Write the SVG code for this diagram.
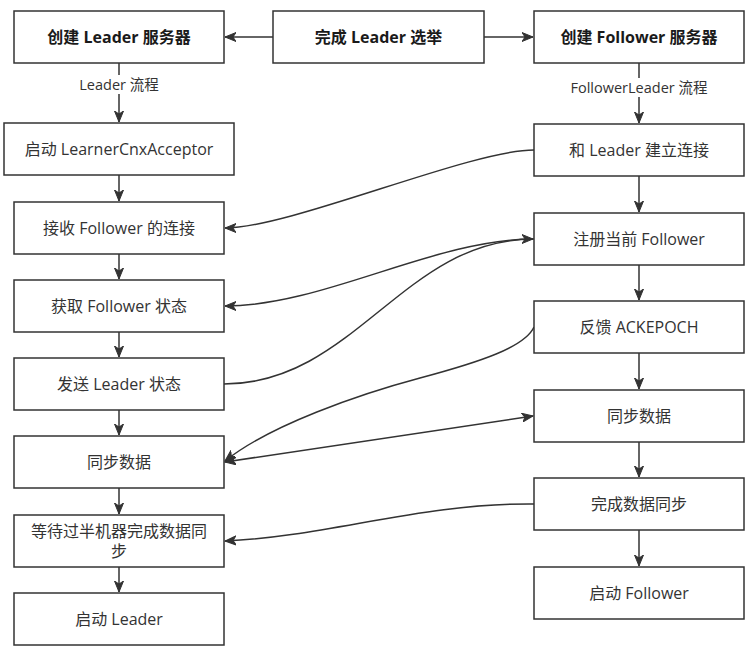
<svg xmlns="http://www.w3.org/2000/svg" width="749" height="653" viewBox="0 0 749 653">
<style>
  .box { fill: #ffffff; stroke: #333333; stroke-width: 1.5; }
  .t { font-family: "Open Sans", "Noto Sans CJK SC", sans-serif; font-size: 16px; fill: #333333; text-anchor: middle; }
  .b { font-weight: bold; fill: #1a1a1a; }
  .lbl { font-family: "Open Sans", "Noto Sans CJK SC", sans-serif; font-size: 14.5px; fill: #333333; text-anchor: middle; }
  .c { fill: none; stroke: #333333; stroke-width: 1.5; }
  .a { marker-end: url(#arr); }
</style>
<defs>
  <marker id="arr" markerUnits="userSpaceOnUse" markerWidth="12" markerHeight="10" viewBox="0 0 12 10" refX="11" refY="5" orient="auto-start-reverse">
    <path d="M0,0.5 L11,5 L0,9.5 L3,5 z" fill="#333333" stroke="#333333" stroke-width="1"/>
  </marker>
</defs>
<rect width="749" height="653" fill="#ffffff"/>

<g id="connectors">
  <line class="c a" x1="273" y1="37" x2="225" y2="37"/>
  <line class="c a" x1="484" y1="37" x2="533" y2="37"/>
  <line class="c a" x1="119" y1="63" x2="119" y2="122"/>
  <line class="c a" x1="119" y1="175" x2="119" y2="201"/>
  <line class="c a" x1="119" y1="254" x2="119" y2="279"/>
  <line class="c a" x1="119" y1="332" x2="119" y2="357"/>
  <line class="c a" x1="119" y1="410" x2="119" y2="435"/>
  <line class="c a" x1="119" y1="488" x2="119" y2="514"/>
  <line class="c a" x1="119" y1="567" x2="119" y2="592"/>
  <line class="c a" x1="639" y1="63" x2="639" y2="123"/>
  <line class="c a" x1="639" y1="176" x2="639" y2="212"/>
  <line class="c a" x1="639" y1="265" x2="639" y2="300"/>
  <line class="c a" x1="639" y1="353" x2="639" y2="389"/>
  <line class="c a" x1="639" y1="442" x2="639" y2="477"/>
  <line class="c a" x1="639" y1="530" x2="639" y2="566"/>
  <path class="c a" d="M534,150 C470,150 290,228 225,228"/>
  <path class="c a" d="M534,239 C434,239 324,306 225,306"/>
  <path class="c a" d="M224,384 C354,384 404,239 533,239"/>
  <path class="c a" d="M534,327 C525,347 480,362 420,378 C360,394 270,425 225,461"/>
  <line class="c a" x1="225" y1="462" x2="533" y2="416" style="marker-start: url(#arr)"/>
  <path class="c a" d="M534,504 C420,503 330,536 225,541"/>
  <rect x="74" y="75" width="90" height="19" fill="#ffffff"/>
  <text class="lbl" x="119" y="90">Leader 流程</text>
  <rect x="563" y="78" width="152" height="19" fill="#ffffff"/>
  <text class="lbl" x="639" y="92.5">FollowerLeader 流程</text>
</g>

<g id="n-create-leader"><rect class="box" x="14" y="11" width="210" height="52"/><text class="t b" x="119" y="42.5">创建 Leader 服务器</text></g>
<g id="n-election"><rect class="box" x="273" y="11" width="211" height="52"/><text class="t b" x="378.5" y="42.5">完成 Leader 选举</text></g>
<g id="n-create-follower"><rect class="box" x="534" y="11" width="210" height="52"/><text class="t b" x="639" y="42.5">创建 Follower 服务器</text></g>

<g id="n-acceptor"><rect class="box" x="4" y="123" width="230" height="52"/><text class="t" x="119" y="154.5">启动 LearnerCnxAcceptor</text></g>
<g id="n-accept"><rect class="box" x="14" y="202" width="210" height="52"/><text class="t" x="119" y="233.5">接收 Follower 的连接</text></g>
<g id="n-get-state"><rect class="box" x="14" y="280" width="210" height="52"/><text class="t" x="119" y="311.5">获取 Follower 状态</text></g>
<g id="n-send-state"><rect class="box" x="14" y="358" width="210" height="52"/><text class="t" x="119" y="389.5">发送 Leader 状态</text></g>
<g id="n-sync-l"><rect class="box" x="14" y="436" width="210" height="52"/><text class="t" x="119" y="467.5">同步数据</text></g>
<g id="n-wait"><rect class="box" x="14" y="515" width="210" height="52"/><text class="t" x="119" y="537">等待过半机器完成数据同</text><text class="t" x="119" y="557">步</text></g>
<g id="n-start-leader"><rect class="box" x="14" y="593" width="210" height="52"/><text class="t" x="119" y="624.5">启动 Leader</text></g>

<g id="n-connect"><rect class="box" x="534" y="124" width="210" height="52"/><text class="t" x="639" y="155.5">和 Leader 建立连接</text></g>
<g id="n-register"><rect class="box" x="534" y="213" width="210" height="52"/><text class="t" x="639" y="244.5">注册当前 Follower</text></g>
<g id="n-ack"><rect class="box" x="534" y="301" width="210" height="52"/><text class="t" x="639" y="332.5">反馈 ACKEPOCH</text></g>
<g id="n-sync-f"><rect class="box" x="534" y="390" width="210" height="52"/><text class="t" x="639" y="421.5">同步数据</text></g>
<g id="n-sync-done"><rect class="box" x="534" y="478" width="210" height="52"/><text class="t" x="639" y="509.5">完成数据同步</text></g>
<g id="n-start-follower"><rect class="box" x="534" y="567" width="210" height="52"/><text class="t" x="639" y="598.5">启动 Follower</text></g>
</svg>
